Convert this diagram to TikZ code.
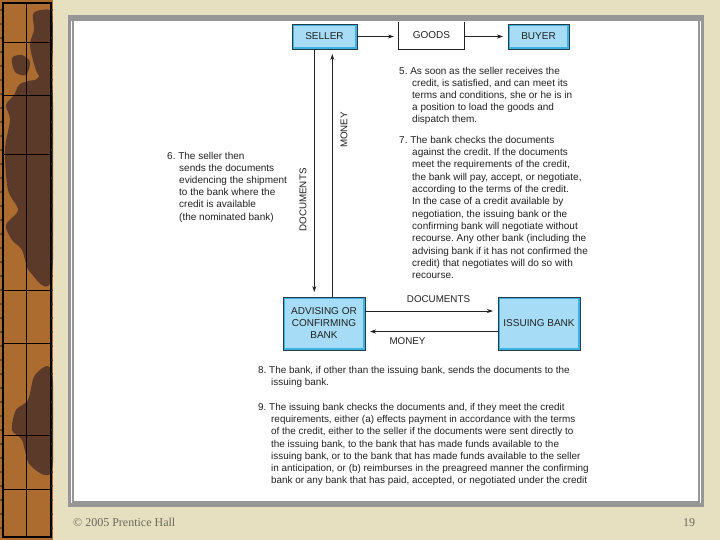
\documentclass[tikz,border=0pt]{standalone}
\usepackage{fontspec}
\setmainfont{Liberation Sans}
\newfontfamily\footfont{Liberation Serif}
\usetikzlibrary{arrows.meta}
\definecolor{beige}{RGB}{231,224,192}
\definecolor{stripbrown}{RGB}{172,108,48}
\definecolor{stripdark}{RGB}{92,58,42}
\definecolor{framegray}{RGB}{150,150,150}
\definecolor{boxfill}{RGB}{166,220,245}
\definecolor{boxcyan}{RGB}{58,178,228}
\definecolor{boxedge}{RGB}{40,60,72}
\definecolor{linecol}{RGB}{34,34,34}
\definecolor{footgray}{RGB}{105,104,92}
\newcommand{\hangsp}{\hspace*{13pt}}
\newcommand{\hangsix}{\hspace*{12pt}}
\frenchspacing
\begin{document}
\begin{tikzpicture}[x=1pt,y=-1pt,
  line/.style={draw=linecol, line width=0.8pt},
  arr/.style={line, -{Stealth[length=6pt,width=4pt]}, shorten >=5pt},
  bluebox/.style={draw=boxcyan, line width=2.4pt, fill=boxfill, inner sep=0pt,
    align=center, font=\fontsize{10}{12}\selectfont, text=linecol},
  boxline/.style={draw=boxedge, line width=0.7pt},
  lbl/.style={inner sep=0pt, font=\fontsize{9.8}{12}\selectfont, text=linecol},
  txt/.style={anchor=north west, inner sep=0pt, align=left, text=linecol,
    font=\fontsize{10}{12.2}\selectfont},
  foot/.style={inner sep=0pt, text=footgray, font=\footfont\fontsize{12}{14}\selectfont},
]
\useasboundingbox (0,0) rectangle (720,540);
\fill[beige] (0,0) rectangle (720,540);

% left decorative strip
\begin{scope}
  \clip (0,0) rectangle (53,540);
  \fill[stripbrown] (0,0) rectangle (53,540);
  \fill[stripdark] plot[smooth cycle] coordinates {(33,14) (42,10) (52,14) (52,60) (44,80) (36,70) (30,45) (34,30)};
  \fill[stripdark] plot[smooth cycle] coordinates {(12,58) (22,55) (30,62) (26,75) (15,72)};
  \fill[stripdark] plot[smooth cycle] coordinates {(20,84) (35,80) (52,82) (52,275) (30,272) (22,250) (12,240) (6,225) (18,210) (8,190) (5,150) (10,120) (6,105) (14,95)};
  \fill[stripdark] plot[smooth cycle] coordinates {(35,375) (52,372) (52,470) (30,465) (22,440) (12,430) (16,410) (28,400)};
  \draw[black, line width=1.3pt] (3,3) rectangle (51,537);
  \draw[black, line width=0.9pt] (26,3) -- (26,537);
  \foreach \yy in {42,95,154,290,343,435,489}
    \draw[black, line width=0.9pt] (3,\yy) -- (51,\yy);
  \foreach \yy in {10,24,...,530}
    {\fill[black!80] (1.2,\yy) circle (1pt); \fill[black!80] (52,\yy) circle (1pt);}
\end{scope}

% slide frame
\fill[framegray] (68,15) rectangle (704,507);
\fill[white] (74,21) rectangle (698,501);
\draw[white, line width=0.8pt] (71.5,21) -- (71.5,503);
\draw[white, line width=0.8pt] (700.8,21) -- (700.8,503);

% top row
\node[bluebox, minimum width=62.6pt, minimum height=22.6pt] (seller) at (324.5,36.5) {SELLER};
\draw[boxline] (seller.south west) rectangle (seller.north east);
\node[inner sep=0pt, minimum width=65pt, minimum height=27pt, font=\fontsize{10}{12}\selectfont, text=linecol] (goods) at (431.5,35.5) {GOODS};
\draw[line] (goods.north west) -- (goods.south west) -- (goods.south east) -- (goods.north east);
\node[bluebox, minimum width=58.6pt, minimum height=22.6pt] (buyer) at (538.5,36.5) {BUYER};
\draw[boxline] (buyer.south west) rectangle (buyer.north east);

% bank row
\node[bluebox, minimum width=79.6pt, minimum height=50.6pt] (adv) at (324,323.5) {ADVISING OR\\CONFIRMING\\BANK};
\draw[boxline] (adv.south west) rectangle (adv.north east);
\node[bluebox, minimum width=79.6pt, minimum height=50.6pt] (iss) at (539,323.5) {ISSUING BANK};
\draw[boxline] (iss.south west) rectangle (iss.north east);

% connectors
\draw[arr] (seller.east) -- (goods.west |- seller.east);
\draw[arr] (goods.east |- seller.east) -- (buyer.west);
\coordinate (docx) at (314.3,0);
\coordinate (monx) at (332.3,0);
\draw[arr] (seller.south -| docx) -- (adv.north -| docx);
\draw[arr] (adv.north -| monx) -- (seller.south -| monx);
\coordinate (docy) at (0,311);
\coordinate (mony) at (0,331.5);
\draw[arr] (adv.east |- docy) -- (iss.west |- docy);
\draw[arr] (iss.west |- mony) -- (adv.east |- mony);

% connector labels
\node[lbl, rotate=90] (ldocv) at (303,200) {DOCUMENTS};
\node[lbl, rotate=90] (lmonv) at (344,130) {MONEY};
\node[lbl] (ldoch) at (438.5,299.5) {DOCUMENTS};
\node[lbl] (lmonh) at (407.5,341.5) {MONEY};

% text blocks
\node[txt] (t5) at (399,65.3) {\strut 5. As soon as the seller receives the\\\hangsp credit, is satisfied, and can meet its\\\hangsp terms and conditions, she or he is in\\\hangsp a position to load the goods and\\\hangsp dispatch them.};
\node[txt, font=\fontsize{10}{12.35}\selectfont] (t7) at (399,134.2) {\strut 7. The bank checks the documents\\\hangsp against the credit. If the documents\\\hangsp meet the requirements of the credit,\\\hangsp the bank will pay, accept, or negotiate,\\\hangsp according to the terms of the credit.\\\hangsp In the case of a credit available by\\\hangsp negotiation, the issuing bank or the\\\hangsp confirming bank will negotiate without\\\hangsp recourse. Any other bank (including the\\\hangsp advising bank if it has not confirmed the\\\hangsp credit) that negotiates will do so with\\\hangsp recourse.};
\node[txt] (t6) at (167,150.3) {\strut 6. The seller then\\\hangsix sends the documents\\\hangsix evidencing the shipment\\\hangsix to the bank where the\\\hangsix credit is available\\\hangsix (the nominated bank)};
\node[txt, font=\fontsize{9.9}{12.2}\selectfont] (t8) at (258,364.8) {\strut 8. The bank, if other than the issuing bank, sends the documents to the\\\hangsp issuing bank.};
\node[txt, font=\fontsize{9.9}{12.2}\selectfont] (t9) at (258,401.8) {\strut 9. The issuing bank checks the documents and, if they meet the credit\\\hangsp requirements, either (a) effects payment in accordance with the terms\\\hangsp of the credit, either to the seller if the documents were sent directly to\\\hangsp the issuing bank, to the bank that has made funds available to the\\\hangsp issuing bank, or to the bank that has made funds available to the seller\\\hangsp in anticipation, or (b) reimburses in the preagreed manner the confirming\\\hangsp bank or any bank that has paid, accepted, or negotiated under the credit};

% footer
\node[foot, anchor=base west] (copy) at (73,526) {\textcopyright\ 2005 Prentice Hall};
\node[foot, anchor=base] (pagenum) at (689,526) {19};
\end{tikzpicture}
\end{document}
